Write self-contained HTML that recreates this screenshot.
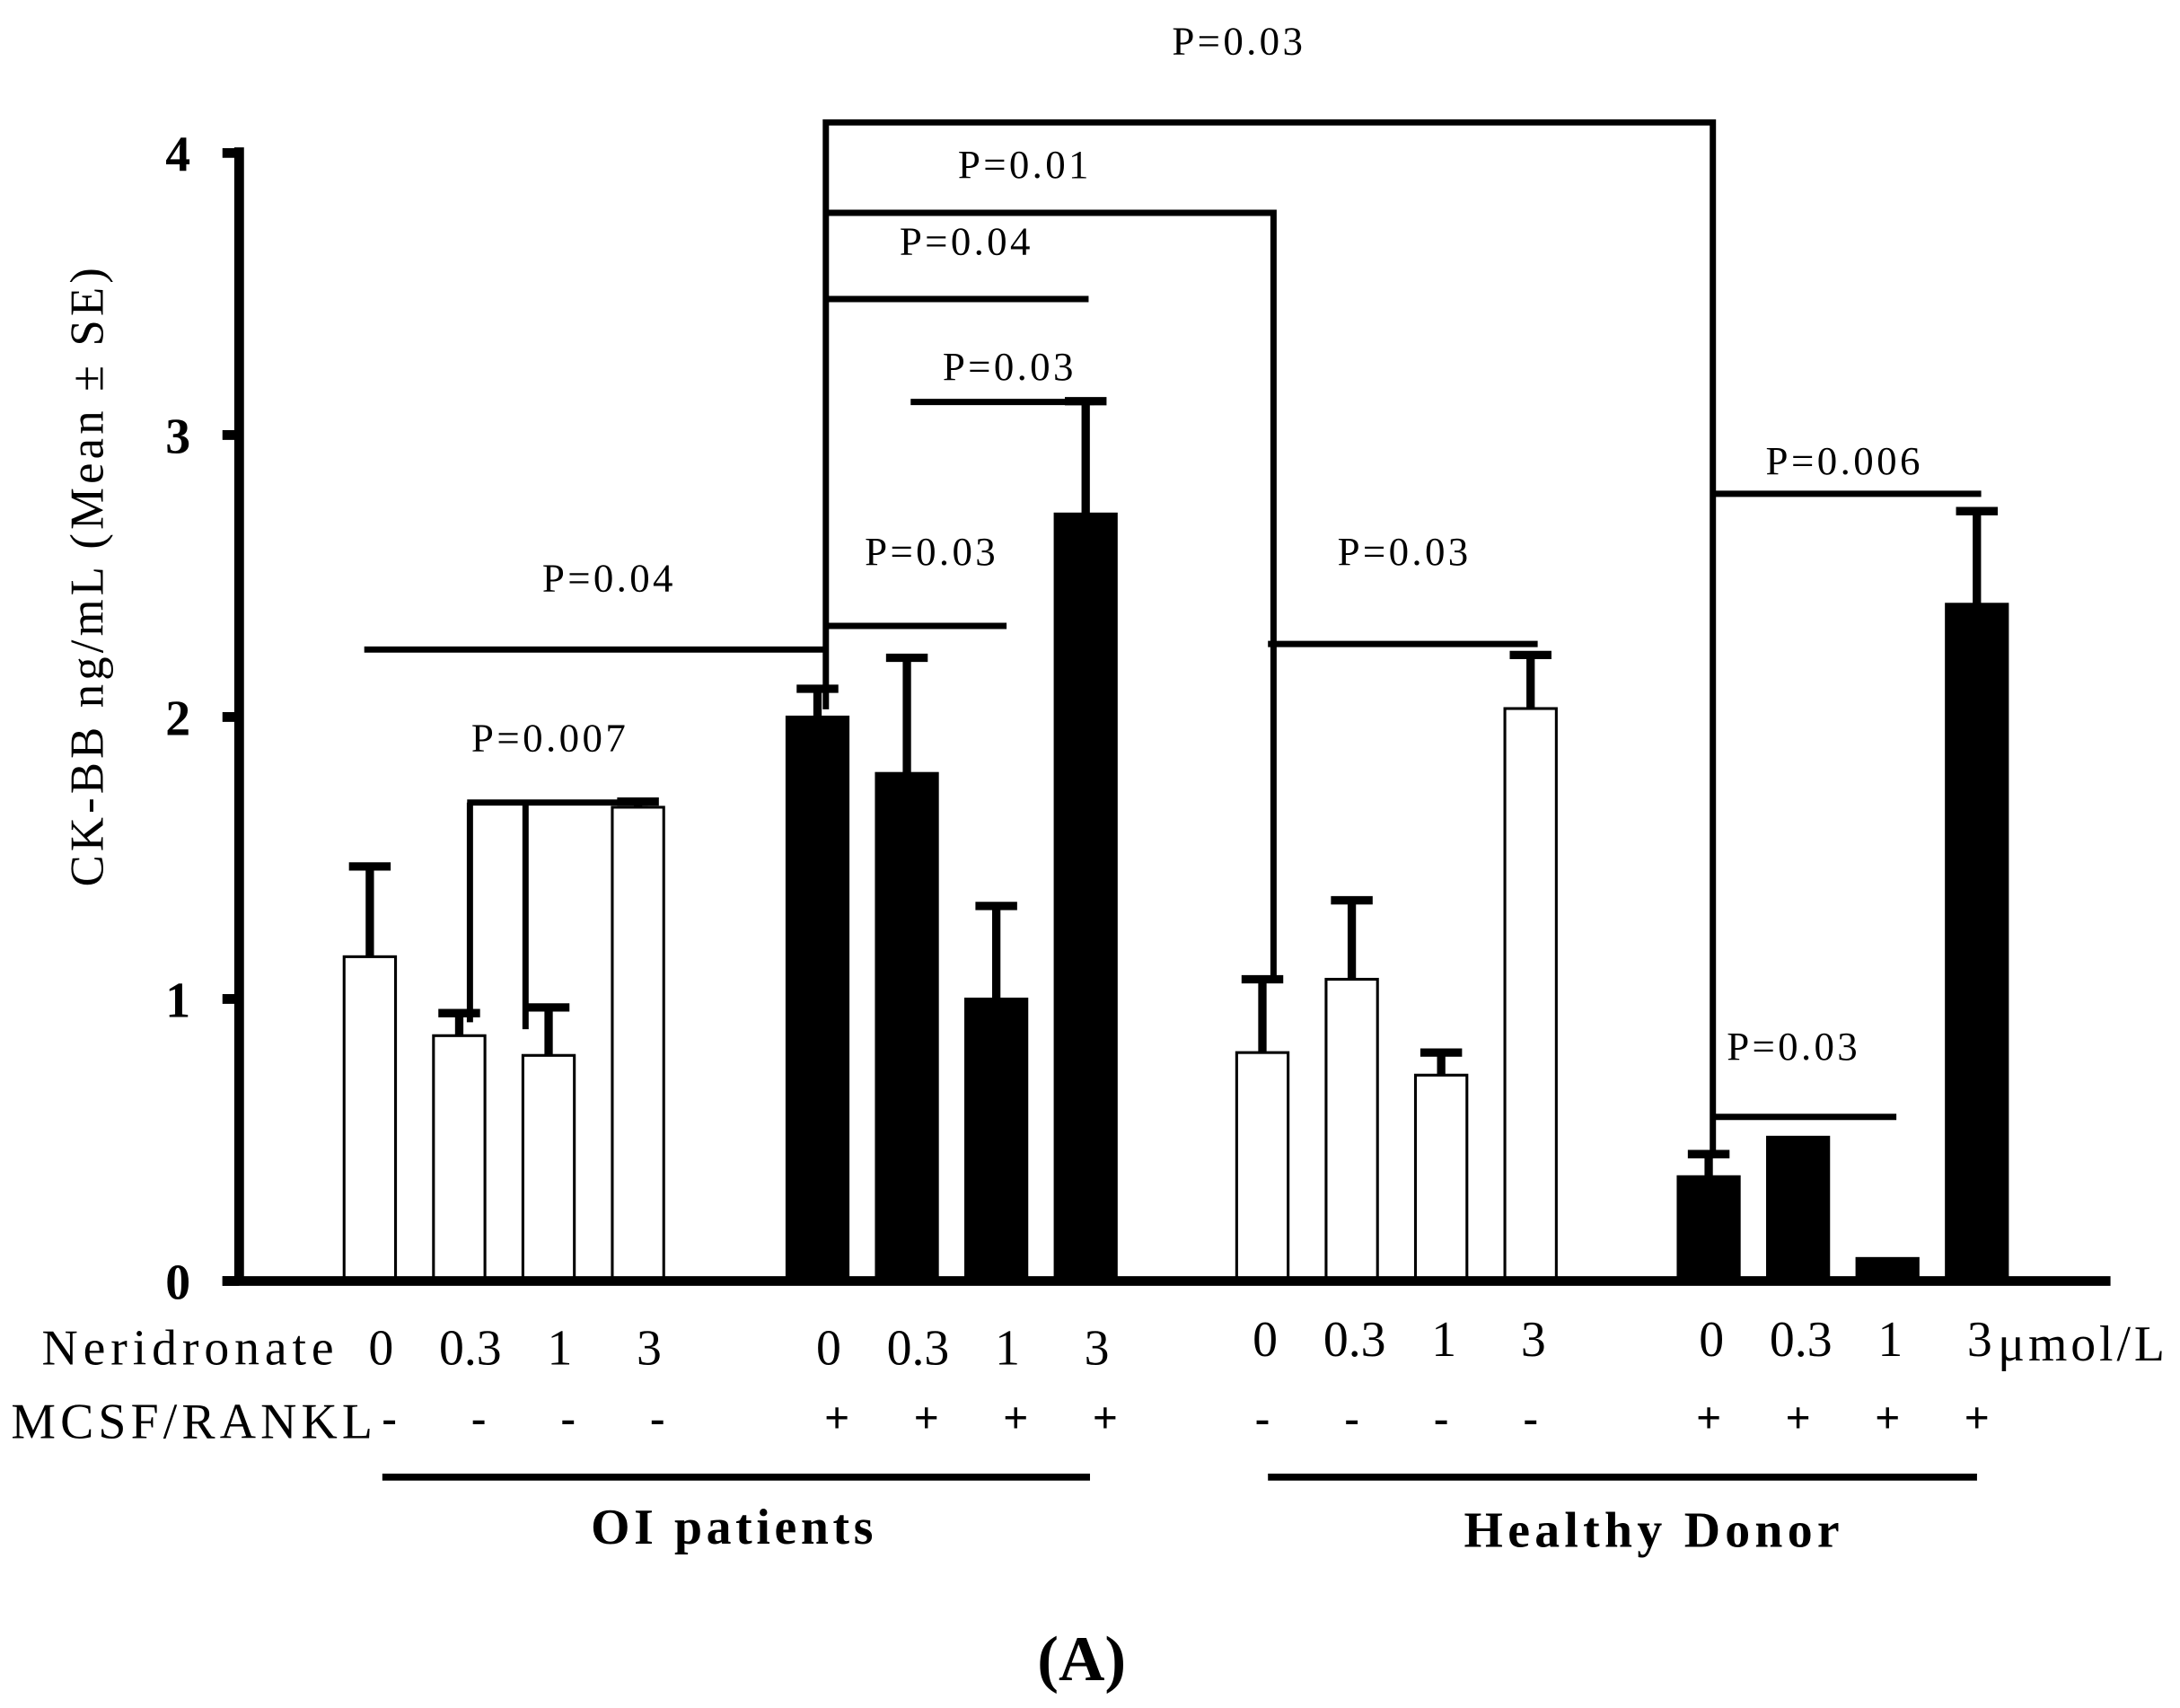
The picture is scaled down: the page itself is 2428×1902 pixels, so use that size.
<!DOCTYPE html>
<html><head><meta charset="utf-8"><style>
html,body{margin:0;padding:0;background:#fff;}
svg{display:block;}
text{font-family:"Liberation Serif",serif;fill:#000;}
</style></head><body>
<svg id="chart" width="2428" height="1902" viewBox="0 0 1568 1228" preserveAspectRatio="none" xmlns="http://www.w3.org/2000/svg">
<g id="marks"></g>
<g id="ann" stroke="#000" stroke-width="4.5" fill="none">
  <polyline points="336,577 466,577"/>
  <polyline points="338,577 338,735"/>
  <polyline points="378,577 378,740"/>
  <polyline points="262,467 594,467"/>
  <polyline points="594,510 594,88 1232,88 1232,828"/>
  <polyline points="594,153 916,153 916,705"/>
  <polyline points="594,215 783,215"/>
  <polyline points="655,289 787,289"/>
  <polyline points="594,450 724,450"/>
  <polyline points="912,463 1106,463"/>
  <polyline points="1232,355 1425,355"/>
  <polyline points="1232,803 1364,803"/>
  <polyline points="275,1062 784,1062" stroke-width="5"/>
  <polyline points="912,1062 1422,1062" stroke-width="5"/>
</g>
<g font-size="29">
  <text x="843" y="39" textLength="94">P=0.03</text>
  <text x="689" y="128" textLength="94">P=0.01</text>
  <text x="647" y="183" textLength="94">P=0.04</text>
  <text x="678" y="273" textLength="94">P=0.03</text>
  <text x="622" y="406" textLength="94">P=0.03</text>
  <text x="390" y="425" textLength="94">P=0.04</text>
  <text x="339" y="540" textLength="111">P=0.007</text>
  <text x="962" y="406" textLength="94">P=0.03</text>
  <text x="1270" y="341" textLength="111">P=0.006</text>
  <text x="1242" y="762" textLength="94">P=0.03</text>
</g>
<text transform="translate(74,415) rotate(-90)" font-size="34" text-anchor="middle" textLength="445">CK-BB ng/mL (Mean ± SE)</text>
<g id="labels" font-size="34"></g>
<text x="30" y="981" font-size="36" textLength="210">Neridronate</text>
<text x="1437" y="978" font-size="36" textLength="120">μmol/L</text>
<text x="8" y="1034" font-size="36" textLength="260">MCSF/RANKL</text>
<text x="425" y="1110" font-size="36" font-weight="bold" textLength="203">OI patients</text>
<text x="1053" y="1112" font-size="36" font-weight="bold" textLength="270">Healthy Donor</text>
<text x="778" y="1208" font-size="46" font-weight="bold" text-anchor="middle">(A)</text>
</svg>
<script>
const categories = ["OI 0","OI 0.3","OI 1","OI 3","OI+ 0","OI+ 0.3","OI+ 1","OI+ 3","HD 0","HD 0.3","HD 1","HD 3","HD+ 0","HD+ 0.3","HD+ 1","HD+ 3"];
const doseLabels = ["0","0.3","1","3","0","0.3","1","3","0","0.3","1","3","0","0.3","1","3"];
const stimLabels = ["-","-","-","-","+","+","+","+","-","-","-","-","+","+","+","+"];
const meanValues = [1.15,0.87,0.80,1.68, 2.00,1.80,1.00,2.72, 0.81,1.07,0.73,2.03, 0.37,0.51,0.08,2.40];
const errorTops = [1.47,0.95,0.97,1.70, 2.10,2.21,1.33,3.12, 1.07,1.35,0.81,2.22, 0.45,null,null,2.73];
const yTicks = [0,1,2,3,4];

const NS="http://www.w3.org/2000/svg";
const y0=921, y4=110, axisX=172, axisEnd=1518;
function yScale(v){return y0-(y0-y4)*v/4;}
const groupStarts=[266,588,908,1229], step=64.3;
function xScale(i){return groupStarts[Math.floor(i/4)]+(i%4)*step;}
function mk(tag,attrs,parent){const e=document.createElementNS(NS,tag);for(const k in attrs)e.setAttribute(k,attrs[k]);parent.appendChild(e);return e;}
const marks=document.getElementById('marks');
const labels=document.getElementById('labels');
meanValues.forEach((v,i)=>{
  const filled=(Math.floor(i/4)%2)===1;
  const w=filled?44:37, cx=xScale(i);
  const r=mk('rect',{x:cx-w/2,y:yScale(v),width:w,height:y0-yScale(v),fill:filled?'#000':'#fff',stroke:'#000','stroke-width':2},marks);
  
  
  if(errorTops[i]!=null){
    const g=mk('g',{stroke:'#000','stroke-width':6},marks);
    
    
    mk('line',{x1:cx,x2:cx,y1:yScale(v),y2:yScale(errorTops[i])},g);
    mk('line',{x1:cx-15,x2:cx+15,y1:yScale(errorTops[i]),y2:yScale(errorTops[i])},g);
  }
  const hd=i>=8;
  const t=mk('text',{x:cx+(hd?2:8),y:hd?975:981,'text-anchor':'middle','font-size':36},labels);
  t.textContent=doseLabels[i];
  
  
  const s=mk('text',{x:cx+(hd?0:14),y:1030,'text-anchor':'middle','font-size':32,'font-weight':'bold'},labels);
  s.textContent=stimLabels[i];
  
  
});
const ax=mk('g',{stroke:'#000','stroke-width':7},marks);


mk('line',{x1:axisX,x2:axisX,y1:y4-4,y2:y0+3},ax);
mk('line',{x1:160,x2:axisEnd,y1:y0,y2:y0},ax);
yTicks.forEach(t=>{
  mk('line',{x1:160,x2:axisX,y1:yScale(t),y2:yScale(t)},ax);
  const tx=mk('text',{x:128,y:yScale(t)+13,'text-anchor':'middle','font-size':36,'font-weight':'bold'},labels);
  tx.textContent=t;
  
  
});
</script>
</body></html>
